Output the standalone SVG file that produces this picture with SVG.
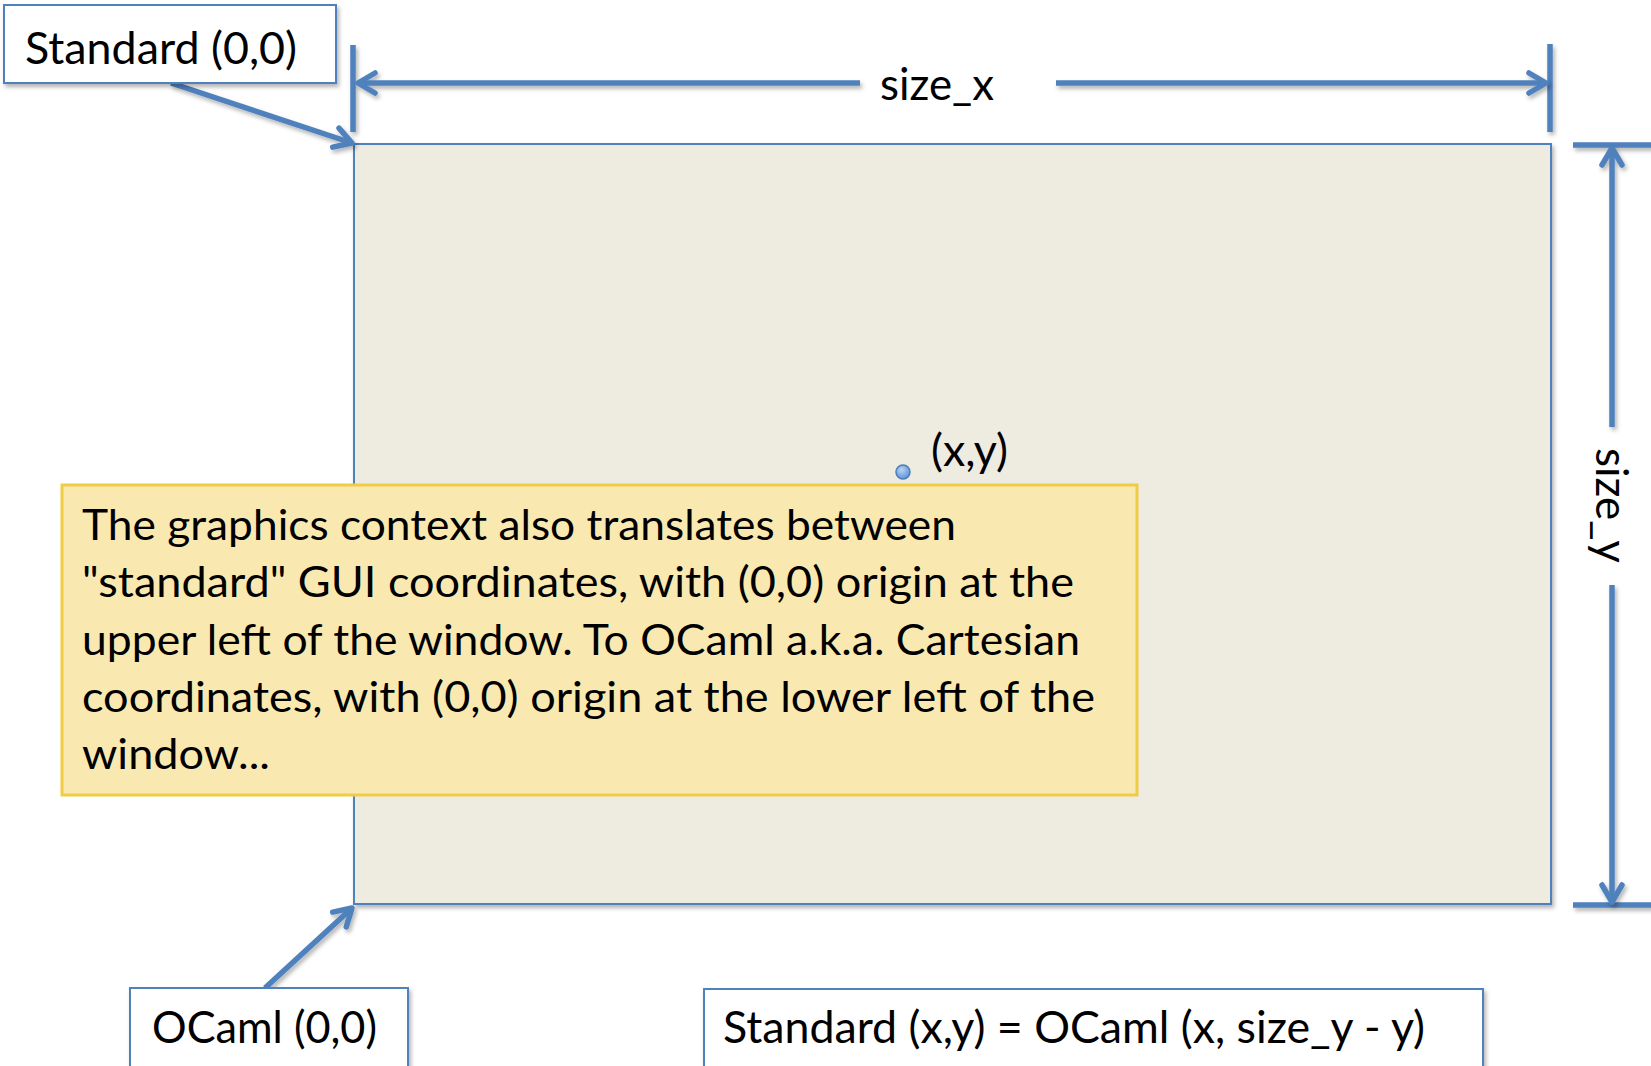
<svg xmlns="http://www.w3.org/2000/svg" width="1651" height="1066" viewBox="0 0 1651 1066">
  <style>
    .lbl { font-family: Lato, "Liberation Sans", sans-serif; font-size: 43px; fill: #000; }
    .big { font-size: 45px; }
    .box { fill: #fff; stroke: #4F81BD; stroke-width: 2; filter: url(#shadow); }
    .wire { fill: none; stroke: #4F81BD; stroke-width: 5.5; filter: url(#shadow); }
    .tick { fill: none; stroke: #4F81BD; stroke-width: 5.5; filter: url(#shadow); }
  </style>
  <defs>
    <filter id="shadow" filterUnits="userSpaceOnUse" x="-20" y="-20" width="1700" height="1110">
      <feDropShadow dx="2" dy="3" stdDeviation="2" flood-color="#000" flood-opacity="0.3"/>
    </filter>
    <marker id="chev" markerUnits="userSpaceOnUse" orient="auto" overflow="visible" refX="0" refY="0" markerWidth="30" markerHeight="30">
      <path d="M -17 -10 L 0 0 L -17 10" fill="none" stroke="#4F81BD" stroke-width="5.5" stroke-linecap="round" stroke-linejoin="round"/>
    </marker>
    <radialGradient id="dotFill" cx="40%" cy="35%" r="70%">
      <stop offset="0" stop-color="#B9D2F2"/>
      <stop offset="1" stop-color="#5B8FD6"/>
    </radialGradient>
  </defs>

  <rect width="1651" height="1066" fill="#fff"/>

  <!-- drawing area -->
  <g id="window">
    <rect x="354" y="144" width="1197" height="760" fill="#EEEBE0" stroke="#4F81BD" stroke-width="2" filter="url(#shadow)"/>
  </g>

  <!-- dimension lines and pointer arrows -->
  <g id="connectors">
    <!-- size_x -->
    <line class="tick" x1="353" y1="45" x2="353" y2="132"/>
    <line class="tick" x1="1550" y1="44" x2="1550" y2="132"/>
    <line class="wire" x1="860" y1="83" x2="358" y2="83" marker-end="url(#chev)"/>
    <line class="wire" x1="1056" y1="83" x2="1546" y2="83" marker-end="url(#chev)"/>
    <!-- size_y -->
    <line class="tick" x1="1573" y1="145" x2="1655" y2="145"/>
    <line class="tick" x1="1573" y1="905" x2="1655" y2="905"/>
    <line class="wire" x1="1612" y1="427" x2="1612" y2="148" marker-end="url(#chev)"/>
    <line class="wire" x1="1612" y1="585" x2="1612" y2="902" marker-end="url(#chev)"/>
    <!-- origin pointers -->
    <line class="wire" x1="171" y1="83" x2="352" y2="143" marker-end="url(#chev)"/>
    <line class="wire" x1="265" y1="988" x2="352" y2="908" marker-end="url(#chev)"/>
  </g>

  <g id="dim-x">
    <text class="lbl big" x="880" y="100" textLength="114" lengthAdjust="spacingAndGlyphs">size_x</text>
  </g>
  <g id="dim-y">
    <text class="lbl big" transform="translate(1596,505.5) rotate(90)" text-anchor="middle" textLength="115" lengthAdjust="spacingAndGlyphs">size_y</text>
  </g>

  <g id="point">
    <circle cx="903" cy="472" r="7" fill="url(#dotFill)" stroke="#4A7EBB" stroke-width="1.5"/>
    <text class="lbl big" x="931" y="466" textLength="77" lengthAdjust="spacingAndGlyphs">(x,y)</text>
  </g>

  <g id="note">
    <rect x="62" y="485" width="1075" height="310" fill="#F9E9B0" stroke="#F0CB46" stroke-width="3"/>
    <text class="lbl">
      <tspan x="82" y="540" textLength="874" lengthAdjust="spacingAndGlyphs">The graphics context also translates between</tspan>
      <tspan x="82" y="597" textLength="992" lengthAdjust="spacingAndGlyphs">"standard" GUI coordinates, with (0,0) origin at the</tspan>
      <tspan x="82" y="655" textLength="998" lengthAdjust="spacingAndGlyphs">upper left of the window. To OCaml a.k.a. Cartesian</tspan>
      <tspan x="82" y="712" textLength="1013" lengthAdjust="spacingAndGlyphs">coordinates, with (0,0) origin at the lower left of the</tspan>
      <tspan x="82" y="769" textLength="188" lengthAdjust="spacingAndGlyphs">window...</tspan>
    </text>
  </g>

  <g id="standard-origin">
    <rect class="box" x="4" y="5" width="332" height="78"/>
    <text class="lbl big" x="25" y="64" textLength="272" lengthAdjust="spacingAndGlyphs">Standard (0,0)</text>
  </g>

  <g id="ocaml-origin">
    <rect class="box" x="130" y="988" width="278" height="95"/>
    <text class="lbl big" x="152" y="1043" textLength="225" lengthAdjust="spacingAndGlyphs">OCaml (0,0)</text>
  </g>

  <g id="formula">
    <rect class="box" x="704" y="989" width="779" height="95"/>
    <text class="lbl big" x="723" y="1043" textLength="702" lengthAdjust="spacingAndGlyphs">Standard (x,y) = OCaml (x, size_y - y)</text>
  </g>
</svg>
